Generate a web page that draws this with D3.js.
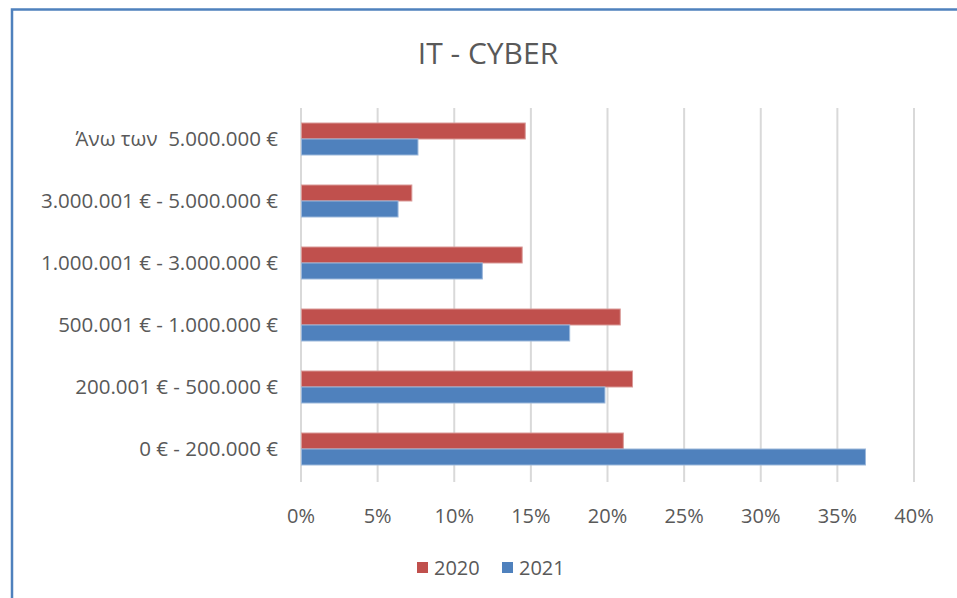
<!DOCTYPE html>
<html>
<head>
<meta charset="utf-8">
<script src="https://cdn.jsdelivr.net/npm/d3@7"></script>
<style>
  body { margin: 0; background: #fff; }
  svg { display: block; }
  text { font-family: "Open Sans", sans-serif; fill: #595959; }
</style>
</head>
<body>
<svg id="chart" width="957" height="598"></svg>
<script>
// values (share of total)
const categories = ["Άνω των  5.000.000 €", "3.000.001 € - 5.000.000 €", "1.000.001 € - 3.000.000 €",
                    "500.001 € - 1.000.000 €", "200.001 € - 500.000 €", "0 € - 200.000 €"];
const series = ["2020", "2021"];
const values2020 = [0.146, 0.072, 0.144, 0.208, 0.216, 0.210];
const values2021 = [0.076, 0.063, 0.118, 0.175, 0.198, 0.368];
const tickValues = [0, 0.05, 0.1, 0.15, 0.2, 0.25, 0.3, 0.35, 0.4];
const colors = { "2020": "#c0504d", "2021": "#4f81bd" };
const edges = { "2020": "#d99a98", "2021": "#9bb7da" };

const svg = d3.select("#chart");

// outer frame (only top and left are visible in the crop)
svg.append("path")
  .attr("d", "M12 600 V9.5 H960")
  .attr("fill", "none")
  .attr("stroke", "#4f81bd")
  .attr("stroke-width", 2.5);

svg.append("text")
  .attr("x", 488).attr("y", 64)
  .attr("text-anchor", "middle")
  .style("font-size", "30px")
  .text("IT - CYBER");

const x = d3.scaleLinear().domain([0, 0.4]).range([301, 914]);
const y = d3.scaleBand().domain(categories).range([108, 480])
  .paddingInner(30 / 62).paddingOuter(15 / 62);
const ySub = d3.scaleBand().domain(series).range([0, y.bandwidth()]);

// gridlines
svg.append("g").selectAll("line")
  .data(tickValues).enter()
  .append("line")
  .attr("x1", d => x(d)).attr("x2", d => x(d))
  .attr("y1", 108).attr("y2", 482)
  .attr("stroke", "#d9d9d9")
  .attr("stroke-width", 2);

// x tick labels
svg.append("g").selectAll("text")
  .data(tickValues).enter()
  .append("text")
  .attr("x", d => x(d)).attr("y", 523)
  .attr("text-anchor", "middle")
  .style("font-size", "20px")
  .text(d => d3.format(".0%")(d));

// category labels
svg.append("g").selectAll("text")
  .data(categories).enter()
  .append("text")
  .attr("x", 278)
  .attr("y", d => y(d) + y.bandwidth() / 2 + 7)
  .attr("text-anchor", "end")
  .style("font-size", "20.5px")
  .style("white-space", "pre")
  .text(d => d);

const rows = categories.map((c, i) => ({ cat: c, "2020": values2020[i], "2021": values2021[i] }));

const groups = svg.append("g").selectAll("g")
  .data(rows).enter()
  .append("g")
  .attr("transform", d => "translate(0," + y(d.cat) + ")");

groups.selectAll("rect")
  .data(d => series.map(s => ({ s: s, v: d[s] })))
  .enter()
  .append("rect")
  .attr("x", x(0) + 0.5)
  .attr("y", d => ySub(d.s))
  .attr("width", d => x(d.v) - x(0))
  .attr("height", ySub.bandwidth())
  .attr("fill", d => colors[d.s])
  .attr("stroke", d => edges[d.s])
  .attr("stroke-width", 1);

// legend
const legend = svg.append("g").selectAll("g")
  .data(series).enter()
  .append("g")
  .attr("transform", (d, i) => "translate(" + (417 + i * 85) + ",562)");
legend.append("rect")
  .attr("width", 11).attr("height", 11)
  .attr("fill", d => colors[d]);
legend.append("text")
  .attr("x", 17).attr("y", 12.5)
  .style("font-size", "20px")
  .text(d => d);
</script>
</body>
</html>
